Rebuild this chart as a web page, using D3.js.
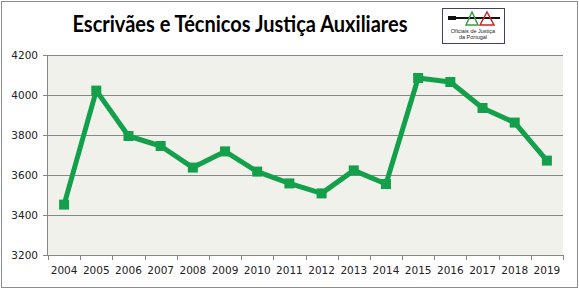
<!DOCTYPE html>
<meta charset="utf-8">
<style>
  body { margin: 0; background: #fff; }
  .tick text { font-family: "DejaVu Sans", Verdana, sans-serif; font-size: 10.5px; fill: #222; }
  .title { font-family: Lato, "Open Sans", sans-serif; font-weight: bold; }
</style>
<svg width="579" height="291"></svg>
<script src="https://d3js.org/d3.v7.min.js"></script>
<script>

var years = ["2004","2005","2006","2007","2008","2009","2010","2011","2012","2013","2014","2015","2016","2017","2018","2019"];
var values = [3452, 4022, 3795, 3745, 3637, 3718, 3617, 3558, 3508, 3623, 3555, 4085, 4065, 3935, 3862, 3672];
var yTicks = [3200, 3400, 3600, 3800, 4000, 4200];

var svg = d3.select("svg");
var margin = {left: 48, right: 16, top: 55, bottom: 36};
var width = 579 - margin.left - margin.right,
    height = 291 - margin.top - margin.bottom;

// chart border
svg.append("rect")
    .attr("x", 1.5).attr("y", 1.5)
    .attr("width", 576).attr("height", 286)
    .attr("fill", "#fff")
    .attr("stroke", "#8c8c8c");

var x = d3.scaleBand().domain(years).range([0, width]);
var y = d3.scaleLinear().domain([3200, 4200]).range([height, 0]);

var g = svg.append("g").attr("transform", "translate(" + margin.left + "," + margin.top + ")");

g.append("rect")
    .attr("width", width).attr("height", height)
    .attr("fill", "#eff1ea");

// gridlines
g.selectAll(".grid")
  .data(yTicks.slice(1))
  .enter().append("line")
    .attr("x1", 0).attr("x2", width)
    .attr("y1", function(d) { return y(d) + 0.5; })
    .attr("y2", function(d) { return y(d) + 0.5; })
    .attr("stroke", "#878787");

// y axis
var ya = g.append("g")
    .call(d3.axisLeft(y).tickValues(yTicks).tickSize(5).tickPadding(5).tickFormat(d3.format("d")));
ya.selectAll("line, path").attr("stroke", "#878787");
ya.select(".domain").attr("d", "M-0.5," + (height + 0.5) + "V0");

// x axis, ticks on band boundaries
var xa = g.append("g")
    .attr("transform", "translate(0," + height + ")")
    .call(d3.axisBottom(x).tickSize(0).tickPadding(12));
xa.select(".domain").attr("stroke", "#878787").attr("d", "M0,0.5H" + width);
xa.selectAll(".bnd")
  .data(years.concat(["end"]))
  .enter().append("line")
    .attr("x1", function(d, i) { return Math.round(i * x.step()) + 0.5; })
    .attr("x2", function(d, i) { return Math.round(i * x.step()) + 0.5; })
    .attr("y1", 0).attr("y2", 5)
    .attr("stroke", "#878787");

// line + markers
var line = d3.line()
    .x(function(d, i) { return x(years[i]) + x.bandwidth() / 2; })
    .y(function(d) { return y(d); });

g.append("path")
    .datum(values)
    .attr("d", line)
    .attr("fill", "none")
    .attr("stroke", "#12a04b")
    .attr("stroke-width", 5)
    .attr("stroke-linejoin", "round");

g.selectAll(".pt")
  .data(values)
  .enter().append("rect")
    .attr("x", function(d, i) { return x(years[i]) + x.bandwidth() / 2 - 5; })
    .attr("y", function(d) { return y(d) - 5; })
    .attr("width", 10).attr("height", 10)
    .attr("fill", "#12a04b");

// title
svg.append("text")
    .attr("class", "title")
    .attr("x", 240).attr("y", 32)
    .attr("text-anchor", "middle")
    .attr("font-size", 22)
    .attr("textLength", 335)
    .attr("lengthAdjust", "spacingAndGlyphs")
    .attr("fill", "#000")
    .text("Escrivães e Técnicos Justiça Auxiliares");

// logo
var logo = svg.append("g").attr("transform", "translate(442,8)");
logo.append("rect").attr("x", 0.5).attr("y", 0.5).attr("width", 62).attr("height", 35)
    .attr("fill", "#fff").attr("stroke", "#4b3b6b").attr("stroke-width", 1);
logo.append("line").attr("x1", 6).attr("x2", 58).attr("y1", 10).attr("y2", 10)
    .attr("stroke", "#111").attr("stroke-width", 2);
logo.append("path").attr("d", "M6,8 L14,8 L14,12 L6,12 Z").attr("fill", "#111");
logo.append("path").attr("d", "M24,17 L30,4 L36,17 Z").attr("fill", "none").attr("stroke", "#3a9a4a").attr("stroke-width", 1.5);
logo.append("path").attr("d", "M38,17 L45,4 L52,17 Z").attr("fill", "none").attr("stroke", "#c0282d").attr("stroke-width", 1.5);
logo.append("text").attr("x", 31).attr("y", 25).attr("text-anchor", "middle")
    .attr("font-family", "Liberation Sans, Arial").attr("font-size", 5.5).attr("fill", "#222")
    .text("Oficiais de Justiça");
logo.append("text").attr("x", 31).attr("y", 31).attr("text-anchor", "middle")
    .attr("font-family", "Liberation Sans, Arial").attr("font-size", 5.5).attr("fill", "#222")
    .text("da Portugal");

</script>
